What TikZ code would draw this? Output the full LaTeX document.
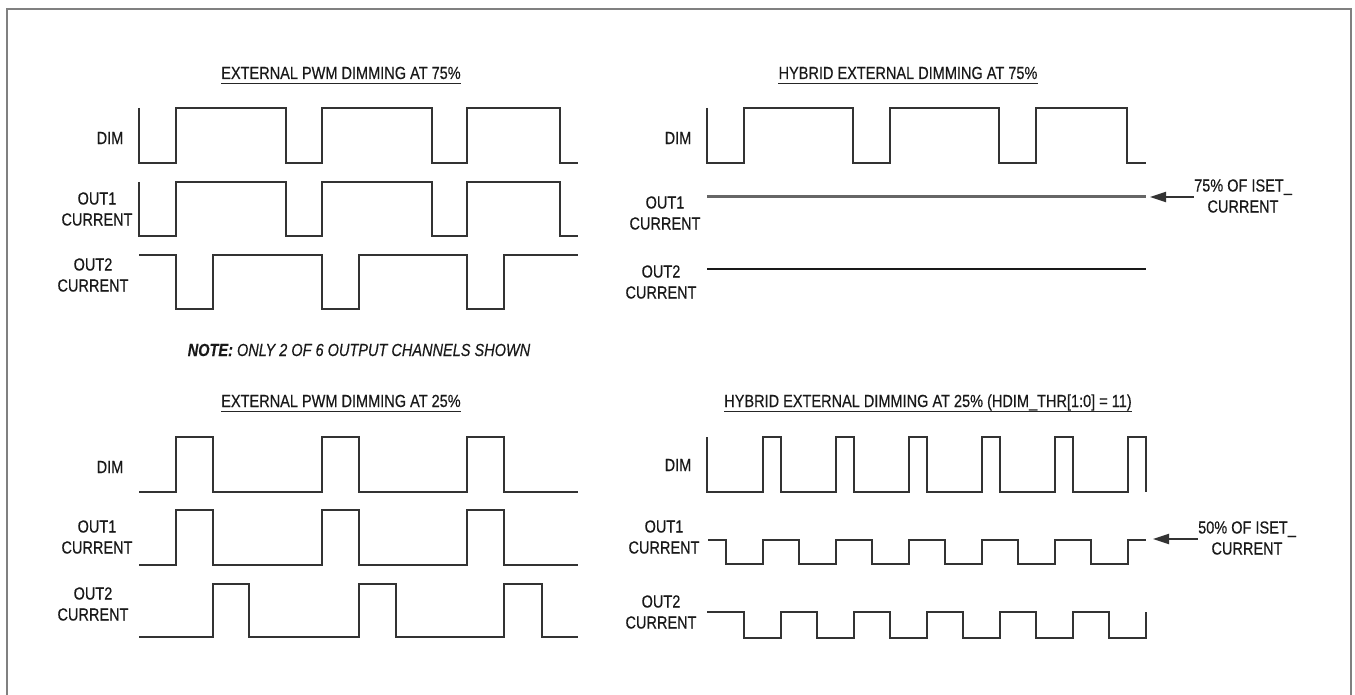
\documentclass[tikz,border=0pt]{standalone}
\usepackage{fontspec}
\setmainfont{Liberation Sans}[FakeStretch=0.83, FakeBold=0.4]
\usepackage{tikz}
\usetikzlibrary{arrows.meta}

\begin{document}
\begin{tikzpicture}[x=1pt, y=-1pt,
                    lbl/.style = {align=center, inner sep=0pt, text=black!90, font=\fontsize{17.5}{21}\selectfont},
                    ttl/.style = {lbl, anchor=base},
                    uline/.style = {draw=black!85, line width=1.3pt},
                    wave/.style = {draw=black!80, line width=1.8pt},
                    level/.style = {draw=black!60, line width=3pt},
                    ptr/.style = {draw=black!80, line width=1.8pt, -{Triangle[length=16pt, width=10pt]}},
                    frm/.style = {draw=black!50, line width=2pt}]
                        \useasboundingbox (0,0) rectangle (1355,695);
                        \draw[frm] (7,695) -- (7,9) -- (1351,9) -- (1351,695);

                        \node[ttl] (ttlA) at (341,79) {EXTERNAL PWM DIMMING AT 75\%};
                        \node[ttl] (ttlB) at (908,79) {HYBRID EXTERNAL DIMMING AT 75\%};
                        \node[ttl] (ttlC) at (341,407) {EXTERNAL PWM DIMMING AT 25\%};
                        \node[ttl] (ttlD) at (928,407) {HYBRID EXTERNAL DIMMING AT 25\% (HDIM\_THR[1:0] = 11)};
                        \draw[uline] ([yshift=-4.5pt]ttlA.base west) -- ([yshift=-4.5pt]ttlA.base east);
                        \draw[uline] ([yshift=-4.5pt]ttlB.base west) -- ([yshift=-4.5pt]ttlB.base east);
                        \draw[uline] ([yshift=-4.5pt]ttlC.base west) -- ([yshift=-4.5pt]ttlC.base east);
                        \draw[uline] ([yshift=-4.5pt]ttlD.base west) -- ([yshift=-4.5pt]ttlD.base east);
                        \node[lbl] (note) at (359,350) {\textbf{\textit{NOTE:}} \textit{ONLY 2 OF 6 OUTPUT CHANNELS SHOWN}};

                        \node[lbl] (dimA) at (110,138) {DIM};
                        \node[lbl] (outA1) at (97,209) {OUT1\\CURRENT};
                        \node[lbl] (outA2) at (93,275) {OUT2\\CURRENT};
                        \node[lbl] (dimB) at (678,138) {DIM};
                        \node[lbl] (outB1) at (665,213) {OUT1\\CURRENT};
                        \node[lbl] (outB2) at (661,282) {OUT2\\CURRENT};
                        \node[lbl] (dimC) at (110,467) {DIM};
                        \node[lbl] (outC1) at (97,537) {OUT1\\CURRENT};
                        \node[lbl] (outC2) at (93,604) {OUT2\\CURRENT};
                        \node[lbl] (dimD) at (678,465) {DIM};
                        \node[lbl] (outD1) at (664,537) {OUT1\\CURRENT};
                        \node[lbl] (outD2) at (661,612) {OUT2\\CURRENT};

                        \draw[wave] (139,108) -- (139,163) -- (176,163) -- (176,108) -- (286,108) -- (286,163) -- (322,163) -- (322,108)
                                    -- (432,108) -- (432,163) -- (467,163) -- (467,108) -- (560,108) -- (560,163) -- (578,163);
                        \draw[wave] (139,182) -- (139,236) -- (176,236) -- (176,182) -- (286,182) -- (286,236) -- (322,236) -- (322,182)
                                    -- (432,182) -- (432,236) -- (467,236) -- (467,182) -- (560,182) -- (560,236) -- (578,236);
                        \draw[wave] (139,255) -- (176,255) -- (176,309) -- (213,309) -- (213,255) -- (322,255) -- (322,309) -- (359,309)
                                    -- (359,255) -- (467,255) -- (467,309) -- (504,309) -- (504,255) -- (578,255);

                        \draw[wave] (707,108) -- (707,163) -- (744,163) -- (744,108) -- (853,108) -- (853,163) -- (890,163) -- (890,108)
                                    -- (999,108) -- (999,163) -- (1036,163) -- (1036,108) -- (1127,108) -- (1127,163) -- (1146,163);
                        \draw[level] (707,197) -- (1146,197);
                        \draw[wave, draw=black!90] (707,269) -- (1146,269);
                        \coordinate (tipB) at (1150,197);
                        \node[lbl] (isetB) at (1243,196) {75\% OF ISET\_\\CURRENT};
                        \draw[ptr] (isetB.west |- tipB) -- (tipB);

                        \draw[wave] (139,492) -- (176,492) -- (176,437) -- (213,437) -- (213,492) -- (322,492) -- (322,437) -- (359,437)
                                    -- (359,492) -- (467,492) -- (467,437) -- (504,437) -- (504,492) -- (578,492);
                        \draw[wave] (139,565) -- (176,565) -- (176,510) -- (213,510) -- (213,565) -- (322,565) -- (322,510) -- (359,510)
                                    -- (359,565) -- (467,565) -- (467,510) -- (504,510) -- (504,565) -- (578,565);
                        \draw[wave] (139,637) -- (213,637) -- (213,584) -- (249,584) -- (249,637) -- (359,637) -- (359,584) -- (396,584)
                                    -- (396,637) -- (504,637) -- (504,584) -- (542,584) -- (542,637) -- (578,637);

                        \draw[wave] (707,437) -- (707,492) -- (763,492) -- (763,437) -- (781,437) -- (781,492) -- (836,492) -- (836,437)
                                    -- (854,437) -- (854,492) -- (909,492) -- (909,437) -- (927,437) -- (927,492) -- (982,492) -- (982,437)
                                    -- (1000,437) -- (1000,492) -- (1055,492) -- (1055,437) -- (1073,437) -- (1073,492) -- (1128,492)
                                    -- (1128,437) -- (1146,437) -- (1146,492);
                        \draw[wave] (708,540) -- (726,540) -- (726,564) -- (763,564) -- (763,540) -- (799,540) -- (799,564) -- (836,564)
                                    -- (836,540) -- (872,540) -- (872,564) -- (909,564) -- (909,540) -- (945,540) -- (945,564) -- (982,564)
                                    -- (982,540) -- (1018,540) -- (1018,564) -- (1055,564) -- (1055,540) -- (1091,540) -- (1091,564)
                                    -- (1128,564) -- (1128,540) -- (1146,540);
                        \draw[wave] (707,612) -- (744,612) -- (744,638) -- (781,638) -- (781,612) -- (817,612) -- (817,638) -- (854,638)
                                    -- (854,612) -- (890,612) -- (890,638) -- (927,638) -- (927,612) -- (963,612) -- (963,638) -- (1000,638)
                                    -- (1000,612) -- (1036,612) -- (1036,638) -- (1073,638) -- (1073,612) -- (1109,612) -- (1109,638)
                                    -- (1146,638) -- (1146,612);
                        \coordinate (tipD) at (1153,539);
                        \node[lbl] (isetD) at (1247,538) {50\% OF ISET\_\\CURRENT};
                        \draw[ptr] (isetD.west |- tipD) -- (tipD);
                    \end{tikzpicture}
\end{document}
